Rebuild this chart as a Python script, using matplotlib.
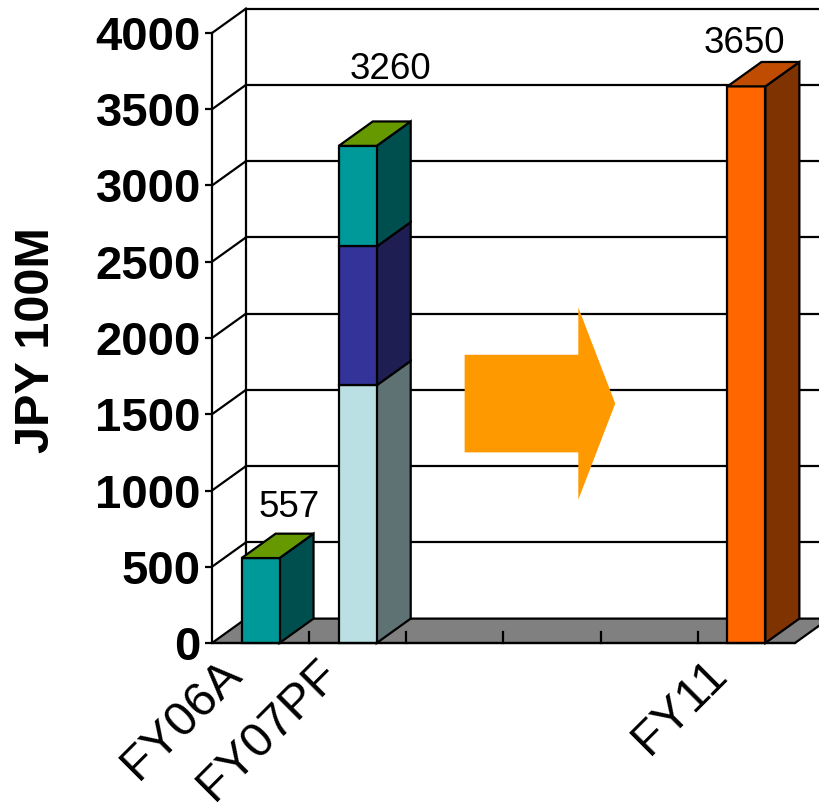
import matplotlib.pyplot as plt
import matplotlib.transforms as mtransforms
from matplotlib.patches import Polygon, FancyArrow

plt.rcParams["font.family"] = ["Liberation Sans", "DejaVu Sans"]

# category slots along the floor; only three carry bars
categories = ["FY06A", "FY07PF", "", "", "", "FY11"]
bar_slots = [0, 1, 5]
# stacked pieces for each bar, bottom to top
bar_segments = [[557], [1690, 910, 660], [3650]]
yticks = [0, 500, 1000, 1500, 2000, 2500, 3000, 3500, 4000]

# front / side / top colours per segment
seg_colors = [
    [("#009999", "#004F4F", "#669900")],
    [("#BBE0E3", "#5E7274", None), ("#333399", "#1E1E52", None),
     ("#009999", "#004F4F", "#669900")],
    [("#FF6600", "#7F3300", "#BF4C00")],
]
# text nudges for the value labels (points)
label_shift = [(8, 6), (11, 25), (-14, 1)]

DX, DY = 0.35, 160  # depth offset in data units
BAR_W = 0.39
NCAT = len(categories)
YMAX = 4000

fig = plt.figure(figsize=(8.2, 8.05), dpi=100)
ax = fig.add_axes([212 / 820, 162 / 805, 583 / 820, 610 / 805])
ax.set_xlim(0, NCAT)
ax.set_ylim(0, YMAX)

lw = 1.6

# back wall: gridlines, frame
for v in yticks[1:]:
    ax.plot([DX, NCAT + DX], [v + DY, v + DY], color="black", lw=lw,
            clip_on=False, zorder=1)
    # side wall diagonals
    ax.plot([0, DX], [v, v + DY], color="black", lw=lw, clip_on=False, zorder=1)
ax.plot([DX, DX], [DY, YMAX + DY], color="black", lw=lw, clip_on=False, zorder=1)

# grey floor
floor = Polygon([(0, 0), (NCAT, 0), (NCAT + DX, DY), (DX, DY)], closed=True,
                facecolor="#808080", edgecolor="black", lw=lw, clip_on=False,
                zorder=2)
ax.add_patch(floor)
for b in range(1, NCAT):
    ax.plot([b, b], [0, 70], color="black", lw=lw, clip_on=False, zorder=2)

# arrow between the bars
arrow = FancyArrow(2.60, 1570, 1.55, 0, width=640, head_width=1260,
                   head_length=0.38, length_includes_head=True,
                   facecolor="#FF9900", edgecolor="none", zorder=3)
ax.add_patch(arrow)


def box(x0, x1, y0, y1, front, side, top):
    ax.add_patch(Polygon([(x1, y0), (x1 + DX, y0 + DY), (x1 + DX, y1 + DY),
                          (x1, y1)], closed=True, facecolor=side,
                         edgecolor="black", lw=lw, clip_on=False, zorder=4))
    ax.add_patch(Polygon([(x0, y0), (x1, y0), (x1, y1), (x0, y1)], closed=True,
                         facecolor=front, edgecolor="black", lw=lw,
                         clip_on=False, zorder=5))
    if top is not None:
        ax.add_patch(Polygon([(x0, y1), (x1, y1), (x1 + DX, y1 + DY),
                              (x0 + DX, y1 + DY)], closed=True, facecolor=top,
                             edgecolor="black", lw=lw, clip_on=False, zorder=5))


for slot, segs, cols, shift in zip(bar_slots, bar_segments, seg_colors,
                                   label_shift):
    x0 = slot + 0.5 - BAR_W / 2
    x1 = slot + 0.5 + BAR_W / 2
    base = 0
    for val, (front, side, top) in zip(segs, cols):
        box(x0, x1, base, base + val, front, side, top)
        base += val
    ax.annotate(f"{base}", (slot + 0.5 + DX / 2, base + DY),
                xytext=shift, textcoords="offset points",
                ha="center", va="bottom", fontsize=26.5, zorder=6,
                annotation_clip=False)

# axes styling
for side in ("top", "right"):
    ax.spines[side].set_visible(False)
ax.spines["left"].set_linewidth(lw)
ax.spines["bottom"].set_linewidth(lw)
ax.spines["bottom"].set_zorder(6)

ax.set_yticks(yticks)
ax.set_yticklabels([str(t) for t in yticks], fontsize=34, fontweight="bold")
ax.tick_params(axis="y", length=5, width=lw, pad=3)

ax.set_xticks([i + 0.5 for i in range(NCAT)])
ax.set_xticklabels(categories, fontsize=35, rotation=45,
                   ha="right", va="top", rotation_mode="anchor")
ax.tick_params(axis="x", length=0, pad=6)
nudge = mtransforms.ScaledTranslation(-42 / 100, 0, fig.dpi_scale_trans)
for lab in ax.get_xticklabels():
    lab.set_transform(lab.get_transform() + nudge)

fig.text(37 / 820, 1 - 340 / 805, "JPY 100M", rotation=90, ha="center",
         va="center", fontsize=35, fontweight="bold")

fig.savefig("out.png", dpi=100)
